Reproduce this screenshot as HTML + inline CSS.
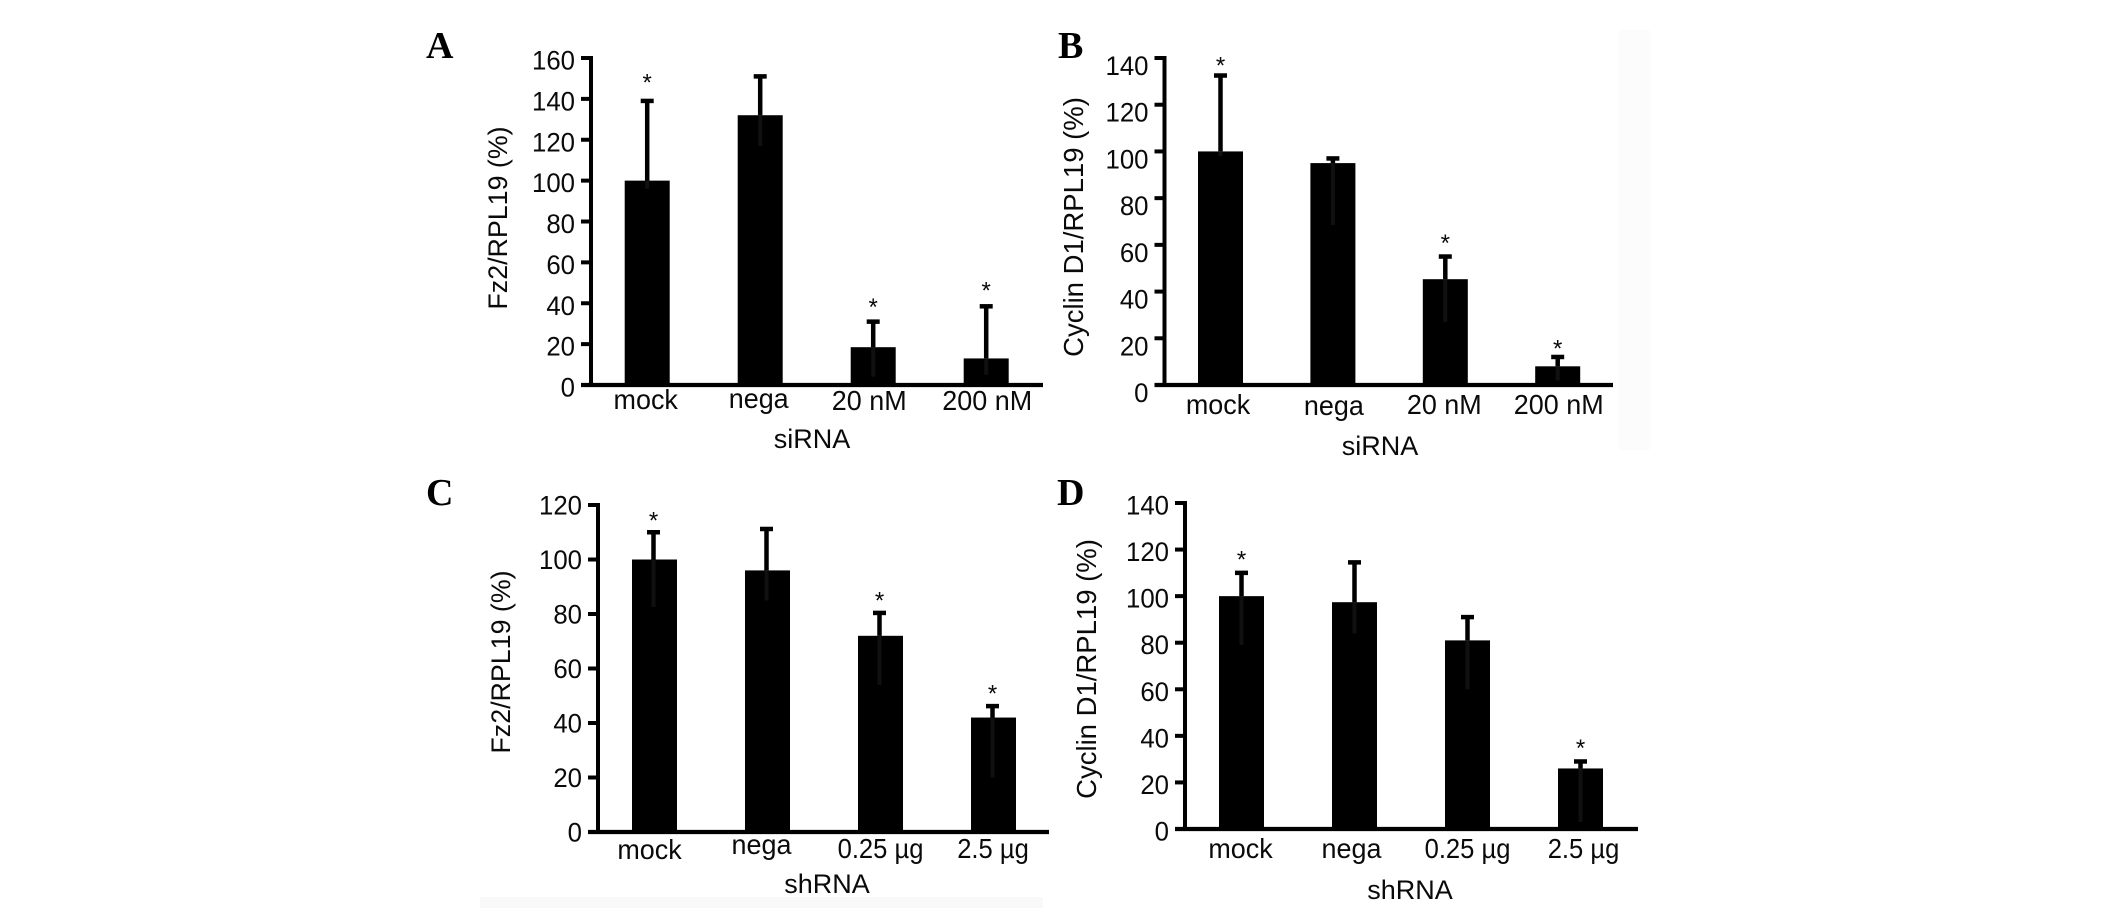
<!DOCTYPE html>
<html lang="en">
<head>
<meta charset="utf-8">
<title>Fz2 and Cyclin D1 expression</title>
<style>
html,body{margin:0;padding:0;background:#fff;width:2126px;height:908px;overflow:hidden}
svg{display:block}
text{font-family:"Liberation Sans",sans-serif;fill:#0a0a0a}
.letter{font-family:"Liberation Serif",serif;font-weight:bold;font-size:38px;fill:#000}
</style>
</head>
<body>
<svg id="figure" xmlns="http://www.w3.org/2000/svg" width="2126" height="908" viewBox="0 0 2126 908">
  <rect width="2126" height="908" fill="#ffffff"/>
  <rect x="1618" y="30" width="32" height="420" fill="#fcfcfc"/>
  <rect x="480" y="897" width="563" height="11" fill="#f9f9f9"/>
</svg>
<script>
const siCategories = ['mock', 'nega', '20 nM', '200 nM'];
const shCategories = ['mock', 'nega', '0.25 \u00b5g', '2.5 \u00b5g'];

const ticksA = [0, 20, 40, 60, 80, 100, 120, 140, 160];
const valuesA = [100, 132, 18.5, 13];
const errHighA = [139, 151, 31, 38.5];
const errLowA = [96, 117, 4, 5];
const starsA = [149.5, null, 39.6, 47.6];

const ticksB = [0, 20, 40, 60, 80, 100, 120, 140];
const valuesB = [100, 95, 45.3, 8];
const errHighB = [132.5, 97, 55, 12];
const errLowB = [98, 68.5, 27, 2];
const starsB = [138, null, 62, 17];

const ticksC = [0, 20, 40, 60, 80, 100, 120];
const valuesC = [100, 96, 72, 42];
const errHighC = [110, 111.2, 80.4, 46.2];
const errLowC = [82.6, 85, 54, 20];
const starsC = [115.5, null, 86, 52];

const ticksD = [0, 20, 40, 60, 80, 100, 120, 140];
const valuesD = [100, 97.4, 81, 26];
const errHighD = [110, 114.5, 91, 29];
const errLowD = [79, 84, 60, 3];
const starsD = [117, null, null, 36];

const NS = 'http://www.w3.org/2000/svg';
const root = document.getElementById('figure');

function mk(parent, tag, attrs, content) {
  const el = document.createElementNS(NS, tag);
  for (const k in attrs) el.setAttribute(k, attrs[k]);
  if (content !== undefined) el.textContent = content;
  parent.appendChild(el);
  return el;
}

function drawPanel(p) {
  const g = mk(root, 'g', {});
  
  
  const maxTick = Math.max.apply(null, p.ticks);
  const y = v => p.zeroY - (v / maxTick) * (p.zeroY - p.topY);
  const barLeft = i => p.firstBar + i * p.pitch;
  const barCenter = i => barLeft(i) + p.barW / 2;

  const letter = mk(g, 'text', {x: p.letterX, y: p.letterY, class: 'letter'}, p.id.toUpperCase());
  
  

  p.categories.forEach((c, i) => {
    const bar = mk(g, 'rect', {x: barLeft(i), y: y(p.values[i]), width: p.barW, height: p.zeroY - y(p.values[i]), fill: '#000'});
    
    

    const cx = barCenter(i) + p.errDx;
    const low = mk(g, 'line', {x1: cx, x2: cx, y1: y(p.values[i]), y2: y(p.errLow[i]), stroke: '#101010', 'stroke-width': 4});
    
    

    const high = mk(g, 'line', {x1: cx, x2: cx, y1: y(p.values[i]), y2: y(p.errHigh[i]), stroke: '#000', 'stroke-width': 4.5});
    
    

    const cap = mk(g, 'line', {x1: cx - 6.5, x2: cx + 6.5, y1: y(p.errHigh[i]), y2: y(p.errHigh[i]), stroke: '#000', 'stroke-width': 4.5});
    
    

    if (p.stars[i] !== null) {
      const star = mk(g, 'text', {x: cx, y: y(p.stars[i]) + 11, 'text-anchor': 'middle', 'font-size': 24}, '*');
      
      
    }

    const squeeze = c.indexOf('\u00b5') >= 0 ? 0.93 : 0.98;
    const lab = mk(g, 'text', {transform: 'translate(' + (barCenter(i) + p.labelNudge[i]) + ',' + (p.labelY + p.labelYNudge[i]) + ') scale(' + squeeze + ',1)', 'text-anchor': 'middle', 'font-size': 27.5}, c);
    
    
  });

  const yAxis = mk(g, 'line', {x1: p.axisX, x2: p.axisX, y1: p.topY - 2, y2: p.zeroY + 2, stroke: '#000', 'stroke-width': 4});
  
  
  const xAxis = mk(g, 'line', {x1: p.axisX - 10, x2: p.axisEnd, y1: p.zeroY, y2: p.zeroY, stroke: '#000', 'stroke-width': 4.3});
  
  

  p.ticks.forEach(t => {
    const tick = mk(g, 'line', {x1: p.axisX - 10, x2: p.axisX, y1: y(t), y2: y(t), stroke: '#000', 'stroke-width': 4});
    
    
    const lab = mk(g, 'text', {transform: 'translate(' + (p.axisX - 16) + ',' + (y(t) + 9.5 + p.tickDy) + ') scale(0.955,1)', 'text-anchor': 'end', 'font-size': 27}, String(t));
    
    
  });

  const yt = mk(g, 'text', {transform: 'translate(' + p.yTitleX + ',' + p.yTitleY + ') rotate(-90)', 'text-anchor': 'middle', 'font-size': p.yTitleSize}, p.yTitle);
  
  
  const xt = mk(g, 'text', {x: p.xTitleX, y: p.xTitleY, 'text-anchor': 'middle', 'font-size': 27}, p.xTitle);
  
  
}

drawPanel({id: 'a', categories: siCategories, ticks: ticksA, values: valuesA, errHigh: errHighA, errLow: errLowA, stars: starsA,
  topY: 58, zeroY: 385, axisX: 591, axisEnd: 1043, firstBar: 624.7, pitch: 113, barW: 45, errDx: 0,
  labelY: 409, labelNudge: [-1.5, -1.5, -4, 1], labelYNudge: [0, -1, 1, 1], tickDy: 2,
  letterX: 426, letterY: 58, yTitle: 'Fz2/RPL19 (%)', yTitleSize: 26.8, yTitleX: 507, yTitleY: 218, xTitle: 'siRNA', xTitleX: 812, xTitleY: 448});

drawPanel({id: 'b', categories: siCategories, ticks: ticksB, values: valuesB, errHigh: errHighB, errLow: errLowB, stars: starsB,
  topY: 58, zeroY: 385, axisX: 1164.5, axisEnd: 1613, firstBar: 1198, pitch: 112.4, barW: 45, errDx: 0,
  labelY: 414, labelNudge: [-2.5, 1, -1, 1], labelYNudge: [0, 1, 0, 0], tickDy: 7.5,
  letterX: 1058, letterY: 58, yTitle: 'Cyclin D1/RPL19 (%)', yTitleSize: 27.5, yTitleX: 1083, yTitleY: 227, xTitle: 'siRNA', xTitleX: 1380, xTitleY: 455});

drawPanel({id: 'c', categories: shCategories, ticks: ticksC, values: valuesC, errHigh: errHighC, errLow: errLowC, stars: starsC,
  topY: 505, zeroY: 832, axisX: 598, axisEnd: 1049, firstBar: 632, pitch: 113, barW: 45, errDx: -1,
  labelY: 859, labelNudge: [-5, -6, 0, -0.5], labelYNudge: [0, -5, -1, -1], tickDy: 0,
  letterX: 426, letterY: 505, yTitle: 'Fz2/RPL19 (%)', yTitleSize: 26.8, yTitleX: 510, yTitleY: 662, xTitle: 'shRNA', xTitleX: 827, xTitleY: 893});

drawPanel({id: 'd', categories: shCategories, ticks: ticksD, values: valuesD, errHigh: errHighD, errLow: errLowD, stars: starsD,
  topY: 503, zeroY: 829, axisX: 1185, axisEnd: 1638, firstBar: 1219, pitch: 113, barW: 45, errDx: 0,
  labelY: 858, labelNudge: [-1, -3, 0, 3], labelYNudge: [0, 0, 0, 0], tickDy: 2,
  letterX: 1057, letterY: 505, yTitle: 'Cyclin D1/RPL19 (%)', yTitleSize: 27.5, yTitleX: 1096, yTitleY: 669, xTitle: 'shRNA', xTitleX: 1410, xTitleY: 899});
</script>
</body>
</html>
